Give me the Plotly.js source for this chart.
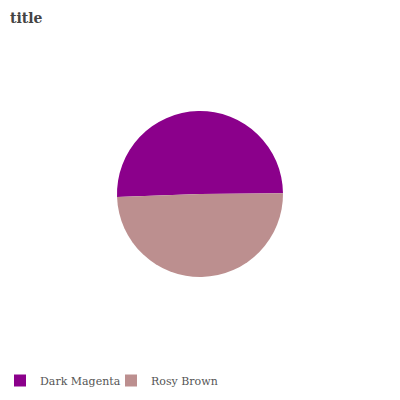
<!DOCTYPE html>
<html>
<head>
<meta charset="utf-8">
<script src="https://cdn.plot.ly/plotly-3.0.1.min.js"></script>
<style>html,body{margin:0;padding:0;background:#fff;}#chart{width:400px;height:400px;}</style>
</head>
<body>
<div id="chart"></div>
<script>
const categories = ["Dark Magenta", "Rosy Brown"];
const values = [50.4, 49.6];
const colors = ["#8B008B", "#BC8F8F"];

const trace = {
  type: "pie",
  labels: categories,
  values: values,
  marker: {colors: colors, line: {width: 0}},
  sort: false,
  direction: "clockwise",
  rotation: 268,
  textinfo: "none",
  hoverinfo: "label+percent",
  domain: {x: [0, 1], y: [0.3075, 0.7225]}
};

const layout = {
  width: 400,
  height: 400,
  margin: {l: 0, r: 0, t: 0, b: 0},
  paper_bgcolor: "#ffffff",
  plot_bgcolor: "#ffffff",
  title: {
    text: "<b>title</b>",
    x: 0.025, xanchor: "left", xref: "container",
    y: 0.955, yanchor: "middle", yref: "container",
    font: {family: "DejaVu Serif", size: 14, color: "#444444"}
  },
  showlegend: true,
  legend: {
    orientation: "h",
    x: 0, xanchor: "left",
    y: 0.085, yanchor: "top",
    font: {family: "DejaVu Serif", size: 11, color: "#555555"},
    itemwidth: 30,
    entrywidth: 66,
    entrywidthmode: "pixels"
  }
};

Plotly.newPlot("chart", [trace], layout, {displayModeBar: false, staticPlot: true});
</script>
</body>
</html>
